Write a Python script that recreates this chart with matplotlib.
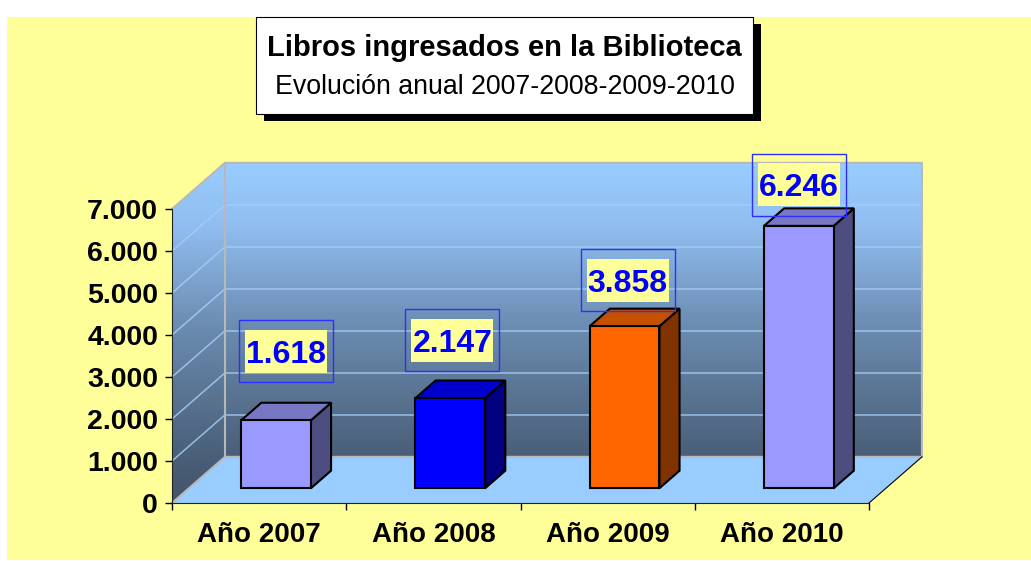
import numpy as np
import matplotlib
matplotlib.use('Agg')
import matplotlib.pyplot as plt
import matplotlib.transforms as mtransforms
from matplotlib.patches import Rectangle, Polygon
from matplotlib.colors import LinearSegmentedColormap
from matplotlib.ticker import FuncFormatter

# datos
years = ['Año 2007', 'Año 2008', 'Año 2009', 'Año 2010']
libros = [1618, 2147, 3858, 6246]
front_colors = ['#9999FF', '#0000FF', '#FF6600', '#9999FF']
top_colors = ['#7777C4', '#0000CC', '#C45000', '#7777C4']
side_colors = ['#4D4D80', '#000080', '#803300', '#4D4D80']
# desplazamiento de las etiquetas (px) respecto a la cara superior
label_off = [(10, 69), (2, 58), (3, 46), (0, 41)]

title = 'Libros ingresados en la Biblioteca'
subtitle = 'Evolución anual 2007-2008-2009-2010'

plt.rcParams['font.family'] = ['Liberation Sans', 'DejaVu Sans']

fig = plt.figure(figsize=(10.31, 5.61), dpi=100)

# fondo y titulo (coordenadas en pixeles)
bg = fig.add_axes([0, 0, 1, 1], zorder=0)
bg.set_xlim(0, 1031)
bg.set_ylim(561, 0)
bg.axis('off')
bg.add_patch(Rectangle((7, 17), 1024, 543, color='#FFFF99', lw=0))
bg.add_patch(Rectangle((264, 24), 497, 97, facecolor='black', lw=0))
bg.add_patch(Rectangle((256, 17), 497, 97, facecolor='white', edgecolor='black', lw=0.8))
bg.text(504.5, 48, title, ha='center', va='center', fontsize=21, fontweight='bold')
bg.text(504.5, 87, subtitle, ha='center', va='center', fontsize=19.3)

# ejes principales = plano frontal
ax = fig.add_axes([172 / 1031, 1 - 503 / 561, 697 / 1031, 294 / 561], zorder=1)
ax.patch.set_visible(False)

DX, DY = 0.304, 1099   # profundidad
Z0, Z1 = 0.32, 0.70    # posicion de las barras en profundidad
W = 0.40
VMAX = 7000


def proj(x, v, z):
    return (x + z * DX, v + z * DY)


# paredes con degradado
top = VMAX + DY
stops = [(0, '#42546A'), (DY, '#4A5F78'), (3000 + DY, '#6A8AAE'),
         (5500 + DY, '#90BEF0'), (top, '#99CCFF')]
cmap = LinearSegmentedColormap.from_list('wall', [(s / top, c) for s, c in stops])
grad = np.linspace(0, 1, 256).reshape(-1, 1)

back = [proj(0, 0, 1), proj(4, 0, 1), proj(4, VMAX, 1), proj(0, VMAX, 1)]
side = [proj(0, 0, 0), proj(0, 0, 1), proj(0, VMAX, 1), proj(0, VMAX, 0)]
for poly in [back, side]:
    im = ax.imshow(grad, cmap=cmap, origin='lower', extent=(0, 4 + DX, 0, top),
                   aspect='auto', zorder=0.5, interpolation='bilinear')
    patch = Polygon(poly, transform=ax.transData, facecolor='none', edgecolor='none')
    im.set_clip_box(fig.bbox)
    im.set_clip_path(patch)

# suelo
floor = [proj(0, 0, 0), proj(4, 0, 0), proj(4, 0, 1), proj(0, 0, 1)]
ax.add_patch(Polygon(floor, facecolor='#99CCFF', edgecolor='none', zorder=0.6, clip_on=False))

# lineas de division
for v in range(1000, VMAX, 1000):
    ax.plot([DX, 4 + DX], [v + DY, v + DY], color='#A4CEF8', lw=1.1, alpha=0.85,
            zorder=0.7, clip_on=False)
    ax.plot([0, DX], [v, v + DY], color='#A4CEF8', lw=1.1, alpha=0.85,
            zorder=0.7, clip_on=False)

# bordes de las paredes
gray = '#B8B8B8'
for pts in [[proj(0, 0, 1), proj(0, VMAX, 1)],
            [proj(0, VMAX, 0), proj(0, VMAX, 1), proj(4, VMAX, 1), proj(4, 0, 1)],
            [proj(0, 0, 0), proj(0, 0, 1), proj(4, 0, 1)]]:
    xs, ys = zip(*pts)
    ax.plot(xs, ys, color=gray, lw=1.5, zorder=0.8, clip_on=False)
xs, ys = zip(proj(4, 0, 0), proj(4, 0, 1))
ax.plot(xs, ys, color='black', lw=0.8, zorder=0.8, clip_on=False)

# barras 3D
for i, v in enumerate(libros):
    c = i + 0.5
    xl, xr = c - W / 2, c + W / 2
    front = [proj(xl, 0, Z0), proj(xr, 0, Z0), proj(xr, v, Z0), proj(xl, v, Z0)]
    right = [proj(xr, 0, Z0), proj(xr, 0, Z1), proj(xr, v, Z1), proj(xr, v, Z0)]
    cap = [proj(xl, v, Z0), proj(xr, v, Z0), proj(xr, v, Z1), proj(xl, v, Z1)]
    for poly, col in [(right, side_colors[i]), (cap, top_colors[i]), (front, front_colors[i])]:
        ax.add_patch(Polygon(poly, facecolor=col, edgecolor='black', lw=1.5,
                             joinstyle='miter', zorder=3, clip_on=False))

    # etiqueta de valor
    px, py = proj(c, v, Z0)
    dx, dy = label_off[i]
    t = mtransforms.Affine2D().translate(dx, dy) + mtransforms.ScaledTranslation(px, py, ax.transData)
    ax.add_patch(Rectangle((-41, -21.5), 82, 43, transform=t, facecolor='#FFFF99',
                           lw=0, zorder=6, clip_on=False))
    ax.add_patch(Rectangle((-47, -31), 94, 62, transform=t, fill=False,
                           edgecolor='#2E2EFF', lw=1, zorder=7, clip_on=False))
    ax.text(0, -11.5, f'{v:,}'.replace(',', '.'), transform=t, ha='center', va='baseline',
            fontsize=23, fontweight='bold', color='#0000FF', zorder=8, clip_on=False)

ax.set_xlim(0, 4)
ax.set_ylim(0, VMAX)

# ejes
ax.spines[['top', 'right']].set_visible(False)
ax.spines['left'].set_color('#222222')
ax.spines['bottom'].set_color('#222222')
ax.set_yticks(range(0, VMAX + 1, 1000))
ax.yaxis.set_major_formatter(FuncFormatter(lambda v, p: f'{int(v):,}'.replace(',', '.')))
ax.tick_params(axis='y', direction='out', length=5, width=1, pad=5, labelsize=20.5)
for lab in ax.get_yticklabels():
    lab.set_fontweight('bold')

ax.set_xticks(range(5))
ax.set_xticklabels([])
ax.set_xticks([i + 0.5 for i in range(4)], minor=True)
ax.set_xticklabels(years, minor=True, fontweight='bold', fontsize=20)
ax.tick_params(axis='x', which='major', direction='out', length=5, width=1)
ax.tick_params(axis='x', which='minor', length=0, pad=13.5)

fig.savefig('out.png', dpi=100)
